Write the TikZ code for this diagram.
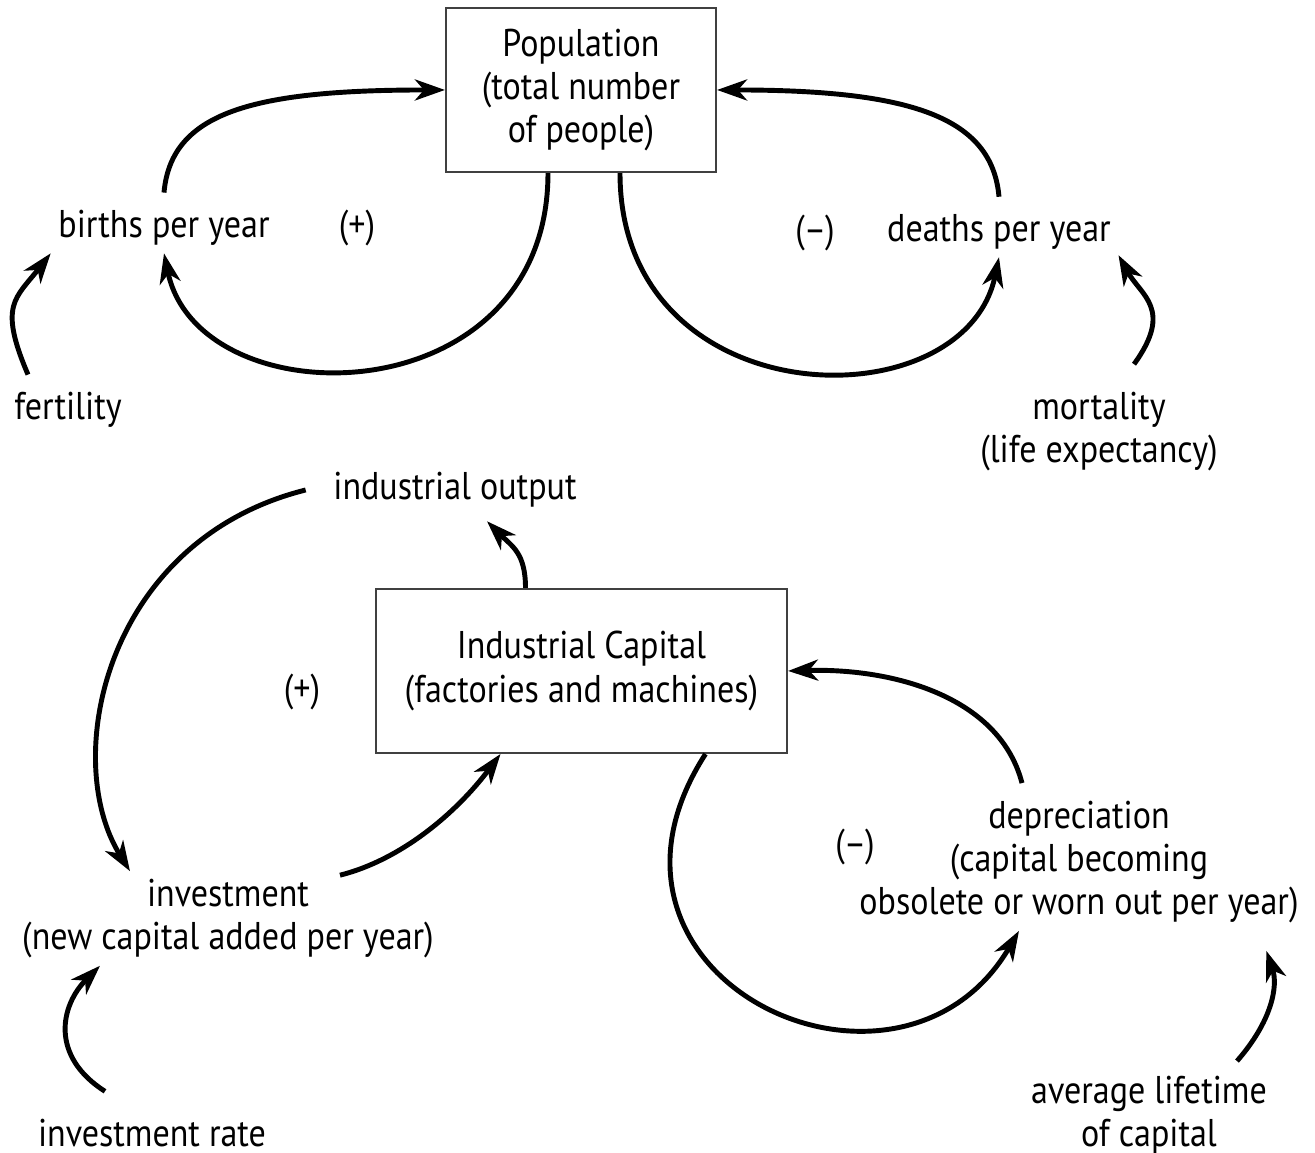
\documentclass[tikz,border=0pt]{standalone}
\usepackage{fontspec}
\setmainfont{PT Sans}[FakeStretch=0.88]
\usetikzlibrary{arrows.meta}

\begin{document}
\begin{tikzpicture}[align=center, font=\fontsize{11}{12.3}\selectfont,
    >={Stealth[length=3mm,width=2.1mm,inset=0.9mm]}]
    \tikzstyle{every node} = [inner sep=2pt]
    \tikzstyle{box} = [rectangle, draw=black!75, line width=0.6pt, minimum height=1.64cm]
    \tikzstyle{link} = [->, line width=1.4pt]

    \useasboundingbox (0,0) rectangle (13.15,11.53);

    \node (a) at (5.81, 10.63) [box, minimum width=2.7cm] {Population \\ (total number \\ of people)};
    \node (b) at (1.64, 9.25) {births per year};
    \node (c) at (3.57, 9.25) {(+)};
    \node (d) at (0.68, 7.43) {fertility};
    \node (e) at (8.15, 9.20) {(--)};
    \node (f) at (9.99, 9.21) {deaths per year};
    \node (g) at (10.99, 7.215) {mortality \\ (life expectancy)};

    \node (h) at (4.55, 6.63) {industrial output};
    \node (i) at (5.815, 4.82) [box, minimum width=4.11cm] {Industrial Capital \\ (factories and machines)};
    \node (j) at (3.02, 4.61) {(+)};
    \node (k) at (2.28, 2.345) {investment \\ (new capital added per year)};
    \node (l) at (1.52, 0.20) {investment rate};
    \node (m) at (8.55, 3.06) {(--)};
    \node (n) at (10.79, 2.91) {depreciation \\ (capital becoming \\ obsolete or worn out per year)};
    \node (o) at (11.49, 0.38) {average lifetime \\ of capital};

    % population loops
    \draw [link] ([yshift=1mm]b.north) .. controls +(0.07,0.8) and +(-1.93,0) .. (a.west);
    \draw [link] ([xshift=-0.33cm]a.south) .. controls +(0,-2.45) and +(0.35,-1.68) .. (b.south);
    \draw [link] ([xshift=0.39cm]a.south) .. controls +(0,-2.45) and +(-0.35,-1.68) .. (f.south);
    \draw [link] ([yshift=1mm]f.north) .. controls +(-0.07,0.8) and +(1.93,0) .. (a.east);

    \draw [link] ([shift={(-0.4,0.1)}]d.north) .. controls +(-0.3,0.7) and +(-0.35,-0.45) .. (b.south west);
    \draw [link] ([shift={(0.35,0.2)}]g.north) .. controls +(0.4,0.55) and +(0.22,-0.4) .. ([yshift=0.02cm]f.south east);

    % capital loops
    \draw [link] ([xshift=-0.56cm]i.north) .. controls +(0,0.35) and +(0.25,-0.25) .. ([shift={(0.32,-0.06)}]h.south);
    \draw [link] ([xshift=-0.2cm]h.west) .. controls +(-2.0,-0.5) and +(-0.7,1.13) .. ([xshift=-0.98cm]k.north);
    \draw [link] ([shift={(1.12,-0.04)}]k.north) .. controls +(0.6,0.15) and +(-0.45,-0.6) .. ([xshift=-0.81cm]i.south);

    \draw [link] ([xshift=1.24cm]i.south) .. controls +(-1.45,-2.25) and +(-1.2,-2.05) .. ([xshift=-0.6cm]n.south);
    \draw [link] ([shift={(-0.57,0.1)}]n.north) .. controls +(-0.22,0.85) and +(1.08,0.03) .. (i.east);

    \draw [link] ([shift={(-0.47,0.2)}]l.north) .. controls +(-0.55,0.35) and +(-0.4,-0.4) .. ([xshift=-1.28cm]k.south);
    \draw [link] ([shift={(0.88,0.07)}]o.north) .. controls +(0.35,0.4) and +(0.12,-0.35) .. ([shift={(-0.4,-0.2)}]n.south east);
\end{tikzpicture}
\end{document}
